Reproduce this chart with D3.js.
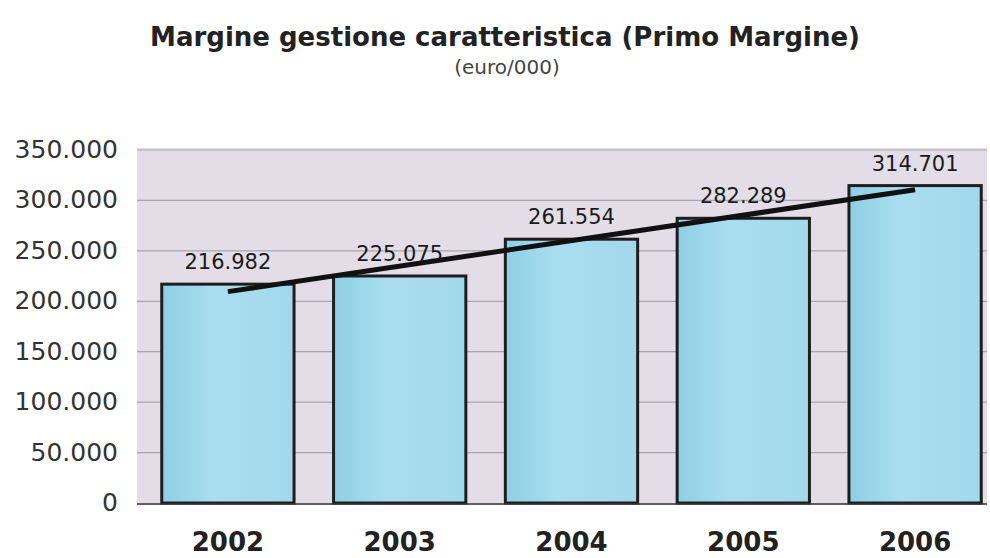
<!DOCTYPE html>
<html><head><meta charset="utf-8">
<script src="https://cdn.jsdelivr.net/npm/d3@7"></script>
<style>body{margin:0;background:#fff;}svg{display:block;}</style>
</head><body>
<svg id="c" width="990" height="558"></svg>
<script>
const years = ["2002","2003","2004","2005","2006"];
const values = [216982, 225075, 261554, 282289, 314701];
const yTicks = [0, 50000, 100000, 150000, 200000, 250000, 300000, 350000];
const title = "Margine gestione caratteristica (Primo Margine)";
const subtitle = "(euro/000)";

const svg = d3.select("#c");
const fmt = v => d3.format(",")(v).replace(/,/g, ".");

const plotL = 137, plotR = 987, plotT = 148, plotB = 505;
const x = d3.scaleBand().domain(years).range([142, 1001]).paddingInner(0.23).paddingOuter(0.115);
const y = d3.scaleLinear().domain([0, 350000]).range([503, 150]);

const defs = svg.append("defs");
const g = defs.append("linearGradient").attr("id","barg").attr("x1","0").attr("x2","1").attr("y1","0").attr("y2","0");
g.append("stop").attr("offset","0%").attr("stop-color","#8fcfe3");
g.append("stop").attr("offset","40%").attr("stop-color","#a9def0");
g.append("stop").attr("offset","100%").attr("stop-color","#a2d8eb");

// titles
svg.append("text").attr("x", 505).attr("y", 46).attr("text-anchor","middle")
  .style("font-family","'DejaVu Sans', Verdana, sans-serif").style("font-weight","bold")
  .style("font-size","26px").attr("fill","#222").text(title);
svg.append("text").attr("x", 507).attr("y", 74).attr("text-anchor","middle")
  .style("font-family","'DejaVu Sans', Verdana, sans-serif")
  .style("font-size","20px").attr("fill","#444").text(subtitle);

// plot background
svg.append("rect").attr("x", plotL).attr("y", plotT).attr("width", plotR-plotL).attr("height", plotB-plotT)
  .attr("fill","#e2dde7");

// gridlines
svg.append("g").selectAll("line").data(yTicks.filter(d=>d>0)).join("line")
  .attr("x1", plotL).attr("x2", plotR).attr("y1", d=>y(d)).attr("y2", d=>y(d))
  .attr("stroke","#a9a5ad").attr("stroke-width",1.2);

// y axis labels
const yAxis = d3.axisLeft(y).tickValues(yTicks).tickFormat(fmt).tickSize(0).tickPadding(0);
const ya = svg.append("g").attr("transform","translate(118,0)").call(yAxis);
ya.select(".domain").remove();
ya.selectAll("text").style("font-family","'DejaVu Sans', Verdana, sans-serif")
  .style("font-size","25px").attr("fill","#333").attr("dy","0.3em");

// bars
svg.append("g").selectAll("rect").data(values).join("rect")
  .attr("x", (d,i)=>x(years[i])).attr("width", x.bandwidth())
  .attr("y", d=>y(d)).attr("height", d=>y(0)-y(d))
  .attr("fill","url(#barg)").attr("stroke","#1e1e1e").attr("stroke-width",3);

// baseline
svg.append("line").attr("x1", plotL).attr("x2", plotR).attr("y1", 504).attr("y2", 504)
  .attr("stroke","#333").attr("stroke-width",1.5);

// value labels
svg.append("g").selectAll("text").data(values).join("text")
  .attr("x", (d,i)=>x(years[i]) + x.bandwidth()/2).attr("y", d=>y(d)-15)
  .attr("text-anchor","middle")
  .style("font-family","'DejaVu Sans', Verdana, sans-serif").style("font-size","21px")
  .attr("fill","#1a1a1a").text(d=>fmt(d));

// linear trend line (least squares)
const n = values.length;
const xs = d3.range(n);
const mx = d3.mean(xs), my = d3.mean(values);
const slope = d3.sum(xs.map((xi,i)=>(xi-mx)*(values[i]-my))) / d3.sum(xs.map(xi=>(xi-mx)*(xi-mx)));
const icpt = my - slope*mx;
const cx = i => x(years[i]) + x.bandwidth()/2;
svg.append("line")
  .attr("x1", cx(0)).attr("y1", y(icpt))
  .attr("x2", cx(n-1)).attr("y2", y(icpt + slope*(n-1)))
  .attr("stroke","#111").attr("stroke-width",5);

// x labels
const xAxis = d3.axisBottom(x).tickSize(0).tickPadding(0);
const xa = svg.append("g").attr("transform","translate(0,551)").call(xAxis);
xa.select(".domain").remove();
xa.selectAll("text").style("font-family","'DejaVu Sans', Verdana, sans-serif").style("font-weight","bold")
  .style("font-size","26px").attr("fill","#222").attr("y",0).attr("dy","0");
</script>
</body></html>
